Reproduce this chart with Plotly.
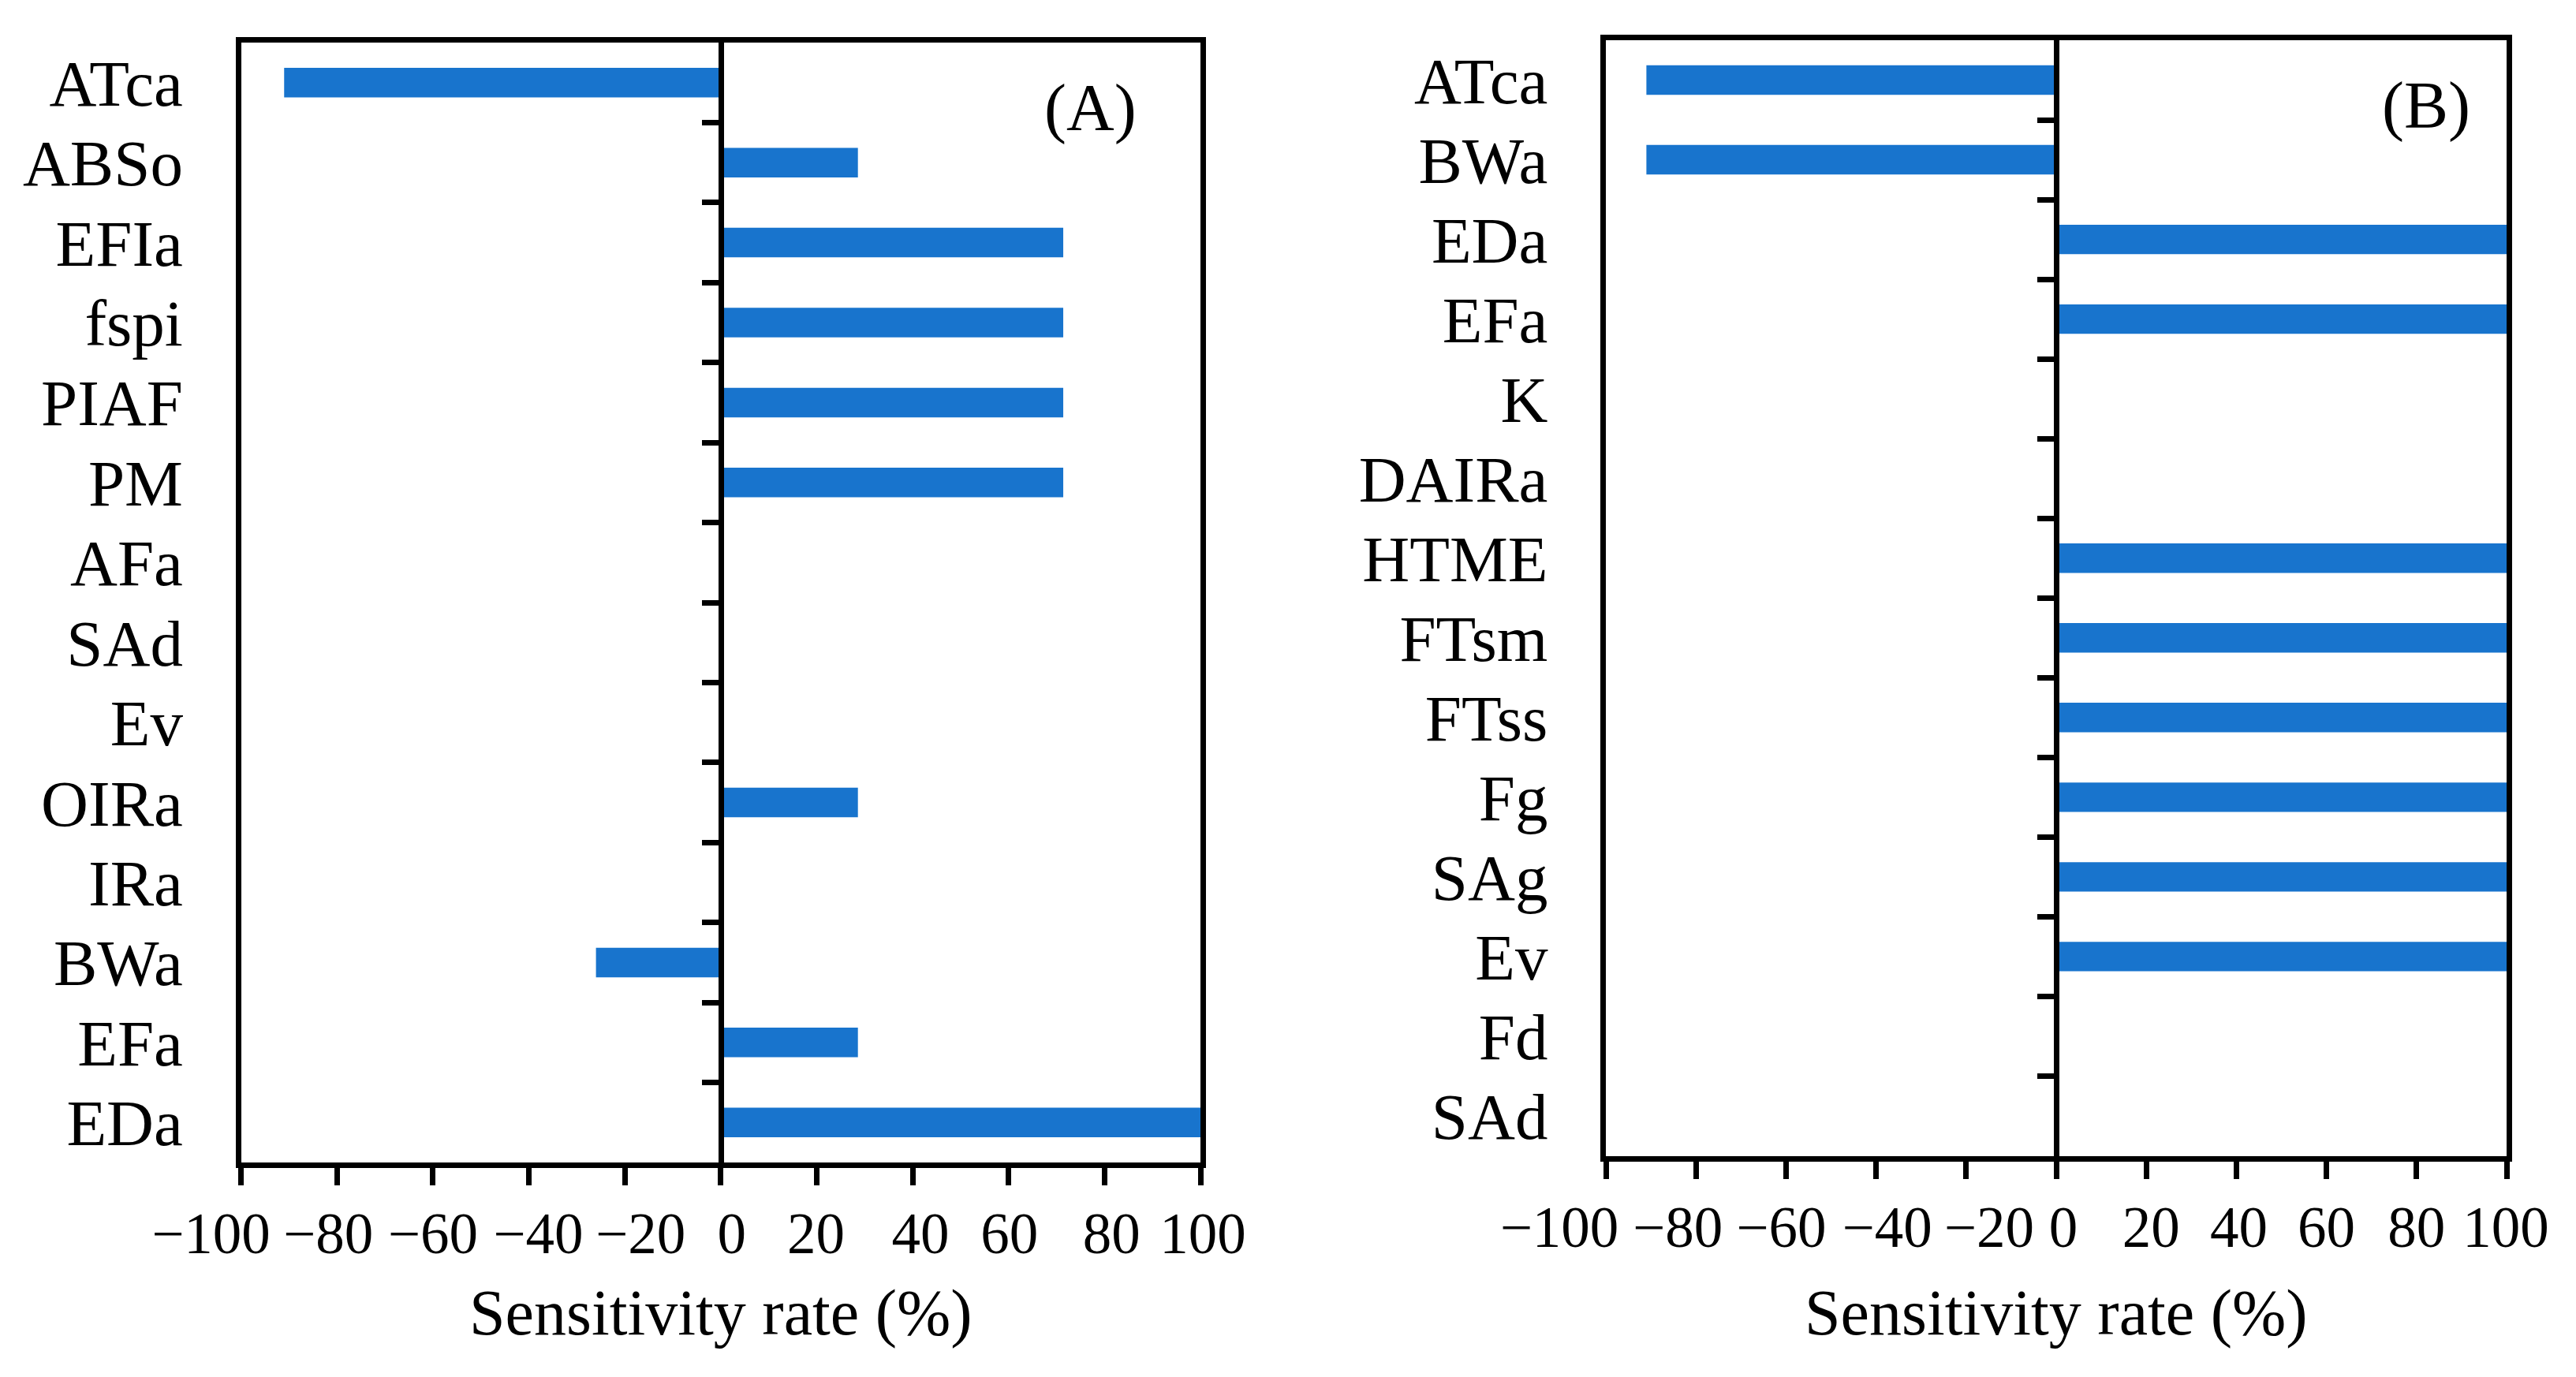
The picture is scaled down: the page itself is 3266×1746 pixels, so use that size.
import plotly.graph_objects as go

# ---- data ----
cats_a = ["ATca", "ABSo", "EFIa", "fspi", "PIAF", "PM", "AFa", "SAd", "Ev",
          "OIRa", "IRa", "BWa", "EFa", "EDa"]
vals_a = [-91, 28.6, 71.4, 71.4, 71.4, 71.4, 0, 0, 0, 28.6, 0, -26, 28.6, 100]

cats_b = ["ATca", "BWa", "EDa", "EFa", "K", "DAIRa", "HTME", "FTsm", "FTss",
          "Fg", "SAg", "Ev", "Fd", "SAd"]
vals_b = [-91, -91, 100, 100, 0, 0, 100, 100, 100, 100, 100, 100, 0, 0]

x_ticks = [-100, -80, -60, -40, -20, 0, 20, 40, 60, 80, 100]
x_title = "Sensitivity rate (%)"
panel_labels = ["(A)", "(B)"]

# ---- style ----
FONT = "Liberation Serif"
BAR = "rgb(24,116,205)"
LW = 7
OFF = 8                      # page body margin of the html page
W, H = 3266 - 2 * OFF, 1746 - 2 * OFF

# horizontal nudges of the tick labels (pixels) to mimic the source label spacing
nudge_px_a = [-38, -11, 0, 12, 20, 14, -1, 10, 1, 9, 3]
nudge_px_b = [-59, -23, -6, 14, 29, 9, 6, 3, 0, 0, -1]
EXT = 60                     # extra px on each side of the label axis


def fx(px):  # image pixel -> figure paper fraction (x)
    return (px - OFF) / W


def fy(py):  # image pixel -> figure paper fraction (y)
    return 1 - (py - OFF) / H


HL = LW / 2  # plotly draws the frame lines outside the domain
box_a = (302, 1525.5, 50.5, 1477.5)   # left, right, top, bottom (image px, line centres)
box_b = (2032.5, 3181.5, 47.5, 1469)

dom_xa = [fx(box_a[0] + HL), fx(box_a[1] - HL)]
dom_ya = [fy(box_a[3] - HL), fy(box_a[2] + HL)]
dom_xb = [fx(box_b[0] + HL), fx(box_b[1] - HL)]
dom_yb = [fy(box_b[3] - HL), fy(box_b[2] + HL)]

fig = go.Figure()
fig.add_trace(go.Bar(y=cats_a, x=vals_a, orientation="h", marker_color=BAR,
                     marker_line_width=0, xaxis="x", yaxis="y", showlegend=False))
fig.add_trace(go.Bar(y=cats_b, x=vals_b, orientation="h", marker_color=BAR,
                     marker_line_width=0, xaxis="x2", yaxis="y2", showlegend=False))
# empty helper traces that bind the extra axes (tick labels / zero-line ticks)
for xa, ya in (("x3", "y"), ("x4", "y2"), ("x", "y3"), ("x2", "y4")):
    fig.add_trace(go.Scatter(x=[], y=[], xaxis=xa, yaxis=ya, mode="markers",
                             showlegend=False, hoverinfo="skip"))


def xax(dom, anchor):
    return dict(domain=dom, anchor=anchor, range=[-100, 100], tickvals=x_ticks,
                showticklabels=False, automargin=False,
                ticks="outside", ticklen=22, tickwidth=LW, tickcolor="black",
                showline=True, linewidth=LW, linecolor="black", mirror=True,
                showgrid=False, zeroline=False)


def xlab(dom, box, nudges):
    ppu = (dom[1] - dom[0]) * W / 200.0
    ext_l = min(EXT, dom[0] * W - 1)
    ext_r = min(EXT, (1 - dom[1]) * W - 1)
    vals = [v + n / ppu for v, n in zip(x_ticks, nudges)]
    text = [f"{v:d}".replace("-", "\u2212") for v in x_ticks]
    return dict(domain=[dom[0] - ext_l / W, dom[1] + ext_r / W], anchor="free",
                position=fy(box[3]), side="bottom",
                range=[-100 - ext_l / ppu, 100 + ext_r / ppu],
                tickvals=vals, ticktext=text, tickangle=0, automargin=False,
                ticks="outside", ticklen=23, tickcolor="rgba(0,0,0,0)",
                showline=False, showgrid=False, zeroline=False,
                tickfont=dict(family=FONT, size=73, color="black"))


def yax(dom, anchor, cats):
    return dict(domain=dom, anchor=anchor, type="category", automargin=False,
                categoryorder="array", categoryarray=cats,
                range=[len(cats) - 0.5, -0.5],
                ticks="outside", ticklen=50, tickcolor="rgba(0,0,0,0)",
                showline=True, linewidth=LW, linecolor="black", mirror=True,
                showgrid=False, zeroline=False,
                tickfont=dict(family=FONT, size=83, color="black"))


def zax(overlay, dom_x, n):
    return dict(overlaying=overlay, anchor="free", position=(dom_x[0] + dom_x[1]) / 2,
                side="left", range=[n - 0.5, -0.5], automargin=False,
                tickvals=[i + 0.5 for i in range(n - 1)],
                ticks="outside", ticklen=21, tickwidth=LW, tickcolor="black",
                showticklabels=False, showline=True, linewidth=LW, linecolor="black",
                showgrid=False, zeroline=False)


fig.update_layout(
    width=W, height=H,
    margin=dict(l=0, r=0, t=0, b=0, autoexpand=False),
    paper_bgcolor="white", plot_bgcolor="rgba(0,0,0,0)",
    bargap=0.63,
    xaxis=xax(dom_xa, "y"),
    yaxis=yax(dom_ya, "x", cats_a),
    xaxis2=xax(dom_xb, "y2"),
    yaxis2=yax(dom_yb, "x2", cats_b),
    xaxis3=xlab(dom_xa, box_a, nudge_px_a),
    xaxis4=xlab(dom_xb, box_b, nudge_px_b),
    yaxis3=zax("y", dom_xa, len(cats_a)),
    yaxis4=zax("y2", dom_xb, len(cats_b)),
)

# axis titles
for box in (box_a, box_b):
    fig.add_annotation(text=x_title, xref="paper", yref="paper",
                       x=fx((box[0] + box[1]) / 2), y=fy(1664),
                       xanchor="center", yanchor="middle", showarrow=False,
                       font=dict(family=FONT, size=82, color="black"))

# panel labels
fig.add_annotation(text=panel_labels[0], xref="paper", yref="paper",
                   x=fx(1382), y=fy(137), xanchor="center", yanchor="middle",
                   showarrow=False, font=dict(family=FONT, size=84, color="black"))
fig.add_annotation(text=panel_labels[1], xref="paper", yref="paper",
                   x=fx(3076), y=fy(134), xanchor="center", yanchor="middle",
                   showarrow=False, font=dict(family=FONT, size=84, color="black"))

fig.write_html("out.html")
